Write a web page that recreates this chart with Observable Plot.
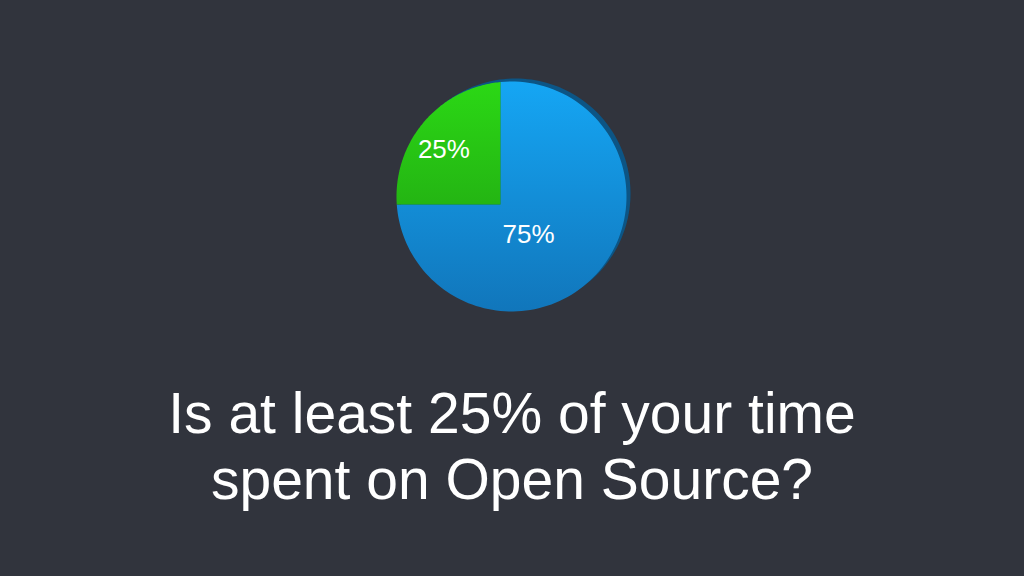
<!DOCTYPE html>
<html>
<head>
<meta charset="utf-8">
<script src="https://cdn.jsdelivr.net/npm/d3@7"></script>
<script src="https://cdn.jsdelivr.net/npm/@observablehq/plot@0.6"></script>
<style>
  html, body { margin: 0; padding: 0; background: #31343d; width: 1024px; height: 576px; overflow: hidden; }
  #title { color: #ffffff; font-family: "Liberation Sans", Arial, sans-serif; font-size: 57px; line-height: 66px; text-align: center; width: 1024px; }
  svg { display: block; }
</style>
</head>
<body>
<div id="chart"></div>
<div id="title">Is at least 25% of your time<br>spent on Open Source?</div>
<script>
// Data
const categories = ["No", "Yes"];
const values = [75, 25];
const labels = ["75%", "25%"];
const colors = ["url(#gBlue)", "url(#gGreen)"];

// Pie geometry (unit disk; apex slightly off-centre to mimic the tilted 3D pie)
const apex = [-0.096, -0.07];
const pie = d3.pie().sort(null).value(d => d.value);
const table = categories.map((c, i) => ({category: c, value: values[i], label: labels[i], fill: colors[i]}));
const arcs = pie(table);

function rayHit(theta) {
  const d = [Math.sin(theta), Math.cos(theta)];
  const ad = apex[0] * d[0] + apex[1] * d[1];
  const aa = apex[0] * apex[0] + apex[1] * apex[1];
  const t = -ad + Math.sqrt(ad * ad - aa + 1);
  return [apex[0] + t * d[0], apex[1] + t * d[1]];
}

const slicePts = [];
arcs.forEach(a => {
  slicePts.push({category: a.data.category, fill: a.data.fill, x: apex[0], y: apex[1]});
  const n = 120;
  for (let k = 0; k <= n; k++) {
    const th = a.startAngle + (a.endAngle - a.startAngle) * k / n;
    const p = rayHit(th);
    slicePts.push({category: a.data.category, fill: a.data.fill, x: p[0], y: p[1]});
  }
});

const rimPts = d3.range(0, 361, 2).map(deg => ({x: Math.sin(deg * Math.PI / 180), y: Math.cos(deg * Math.PI / 180)}));

const labelPts = arcs.map(a => {
  const half = (a.endAngle - a.startAngle) / 2;
  const mid = a.startAngle + half;
  const dist = (2 / 3) * Math.sin(half) / half + 0.12;
  return {label: a.data.label, x: apex[0] + dist * Math.sin(mid), y: apex[1] + dist * Math.cos(mid)};
});

const chart = Plot.plot({
  width: 1024,
  height: 380,
  margin: 0,
  style: {background: "#31343d", overflow: "visible"},
  x: {domain: [-1, 1], range: [396, 626], axis: null},
  y: {domain: [-1, 1], range: [311, 81], axis: null},
  marks: [
    Plot.line(rimPts, {x: "x", y: "y", curve: "linear-closed", fill: "#0c5585", stroke: "none", dx: 4, dy: -3}),
    Plot.line(slicePts, {x: "x", y: "y", z: "category", curve: "linear-closed", fill: d => d.fill, stroke: "none"}),
    Plot.text(labelPts, {x: "x", y: "y", text: "label", fill: "#ffffff", fontSize: 26, dx: 2, dy: 4, fontFamily: "Liberation Sans, Arial, sans-serif"})
  ]
});

const defs = d3.select(chart).insert("defs", ":first-child");
const gb = defs.append("linearGradient").attr("id", "gBlue").attr("x1", 0).attr("y1", 0).attr("x2", 0).attr("y2", 1);
gb.append("stop").attr("offset", "0%").attr("stop-color", "#15a6f4");
gb.append("stop").attr("offset", "100%").attr("stop-color", "#1176bb");
const gg = defs.append("linearGradient").attr("id", "gGreen").attr("x1", 0).attr("y1", 0).attr("x2", 0).attr("y2", 1);
gg.append("stop").attr("offset", "0%").attr("stop-color", "#2bd815");
gg.append("stop").attr("offset", "100%").attr("stop-color", "#24b513");

document.getElementById("chart").appendChild(chart);
</script>
</body>
</html>
